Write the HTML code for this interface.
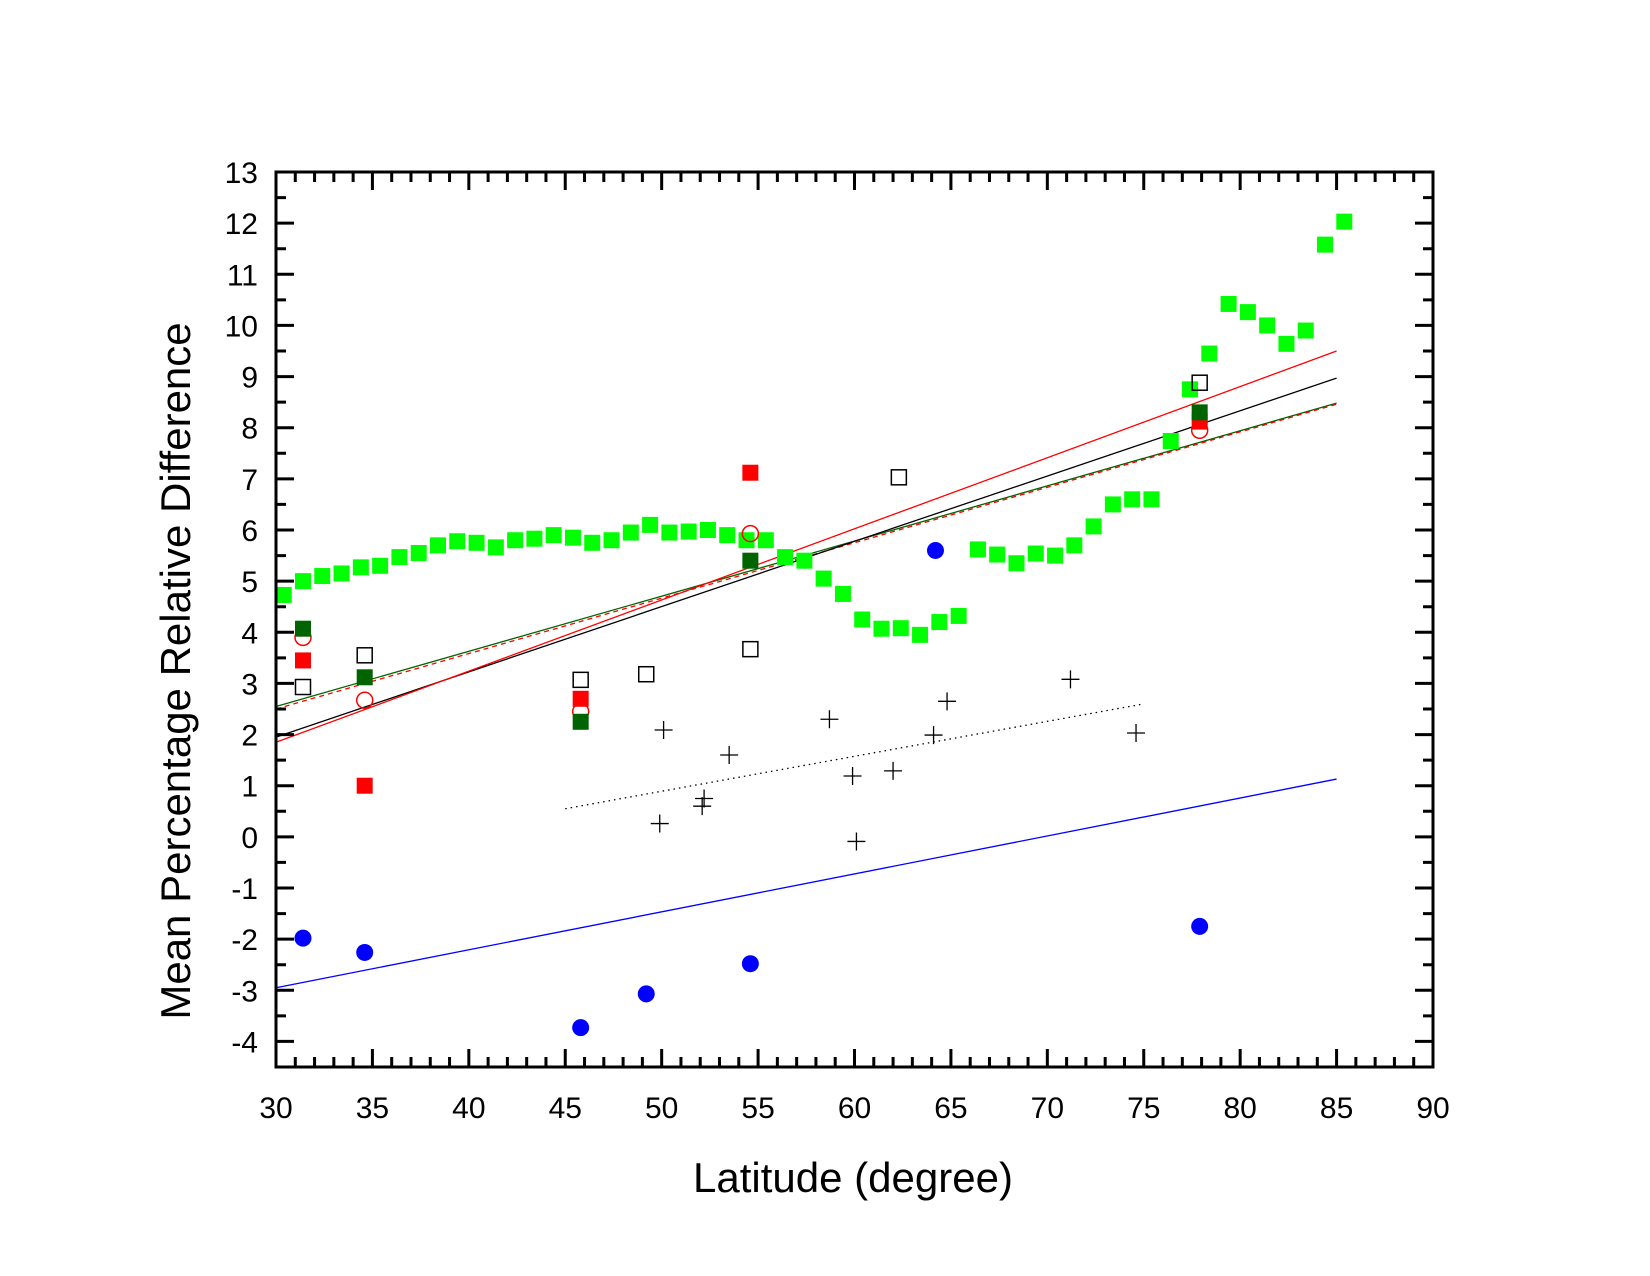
<!DOCTYPE html>
<html><head><meta charset="utf-8"><style>
body{margin:0;background:#fff}
svg{display:block}
text{font-family:"Liberation Sans",Arial,sans-serif}
</style></head><body>
<svg id="chart" width="1650" height="1276" xmlns="http://www.w3.org/2000/svg">
<rect width="1650" height="1276" fill="#fff"/>
<g id="marks"></g>
<g id="axes"></g>
<text x="853" y="1192" font-size="42" text-anchor="middle">Latitude (degree)</text>
<text transform="translate(190,671) rotate(-90)" font-size="42" text-anchor="middle">Mean Percentage Relative Difference</text>
</svg>
<script>
const xTicks=[30,35,40,45,50,55,60,65,70,75,80,85,90];
const yTicks=[-4,-3,-2,-1,0,1,2,3,4,5,6,7,8,9,10,11,12,13];
const greenX=[30.4,31.4,32.4,33.4,34.4,35.4,36.4,37.4,38.4,39.4,40.4,41.4,42.4,43.4,44.4,45.4,46.4,47.4,48.4,49.4,50.4,51.4,52.4,53.4,54.4,55.4,56.4,57.4,58.4,59.4,60.4,61.4,62.4,63.4,64.4,65.4,66.4,67.4,68.4,69.4,70.4,71.4,72.4,73.4,74.4,75.4,76.4,77.4,78.4,79.4,80.4,81.4,82.4,83.4,84.4,85.4];
const greenY=[4.73,5.0,5.1,5.15,5.27,5.3,5.47,5.55,5.7,5.78,5.75,5.66,5.8,5.83,5.9,5.85,5.75,5.8,5.95,6.1,5.95,5.97,6.0,5.9,5.8,5.8,5.47,5.4,5.05,4.75,4.25,4.07,4.08,3.95,4.2,4.32,5.62,5.52,5.35,5.54,5.5,5.7,6.07,6.5,6.6,6.6,7.74,8.75,9.45,10.42,10.26,10.0,9.64,9.9,11.58,12.03];
const stX5=[31.4,34.6,45.8,54.6,77.9];
const redSqY=[3.45,1.0,2.7,7.12,8.12];
const redCircY=[3.9,2.67,2.45,5.93,7.95];
const darkSqY=[4.07,3.12,2.25,5.4,8.3];
const openSqX=[31.4,34.6,45.8,49.2,54.6,62.3,77.9];
const openSqY=[2.93,3.55,3.07,3.18,3.67,7.03,8.88];
const blueX=[31.4,34.6,45.8,49.2,54.6,64.2,77.9];
const blueY=[-1.98,-2.26,-3.73,-3.07,-2.48,5.6,-1.75];
const crossX=[50.1,49.9,52.2,52.1,53.5,58.7,59.9,60.1,62.0,64.1,64.8,71.2,74.6];
const crossY=[2.09,0.26,0.75,0.6,1.6,2.3,1.19,-0.09,1.29,1.99,2.65,3.08,2.03];
const redLine=[[30,1.85],[85,9.5]];
const blackLine=[[30,1.95],[85,8.97]];
const greenLine=[[30,2.55],[85,8.48]];
const redDashLine=[[30,2.5],[85,8.46]];
const blueLine=[[30,-2.95],[85,1.13]];
const dotLine=[[45,0.55],[75,2.6]];

const L=276,R=1433,T=172,B=1067,xMin=30,xMax=90,yMin=-4.5,yMax=13;
const sx=v=>L+(v-xMin)/(xMax-xMin)*(R-L);
const sy=v=>B-(v-yMin)/(yMax-yMin)*(B-T);
const NS='http://www.w3.org/2000/svg';
const marks=document.getElementById('marks'),axes=document.getElementById('axes');
function mk(tag,attrs,parent){const e=document.createElementNS(NS,tag);for(const k in attrs)e.setAttribute(k,attrs[k]);parent.appendChild(e);return e;}

function line(p,stroke,dash,name){
  const e=mk('line',{x1:sx(p[0][0]),y1:sy(p[0][1]),x2:sx(p[1][0]),y2:sy(p[1][1]),stroke:stroke,'stroke-width':1.3},marks);
  if(dash)e.setAttribute('stroke-dasharray',dash);
  
  
}
line(blueLine,'#0000ff',null,'blue-fit-line');
line(dotLine,'#000',"1.5 4",'dotted-fit-line');
line(greenLine,'#006400',null,'darkgreen-fit-line');
line(redDashLine,'#ff0000',"5 4",'red-dashed-fit-line');
line(blackLine,'#000',null,'black-fit-line');
line(redLine,'#ff0000',null,'red-fit-line');

function sq(x,y,fill,stroke,name,s){
  const e=mk('rect',{x:sx(x)-s/2,y:sy(y)-s/2,width:s,height:s,fill:fill},marks);
  if(stroke){e.setAttribute('stroke',stroke);e.setAttribute('stroke-width',1.5);}
  
  
}
function circ(x,y,fill,stroke,name,r){
  const e=mk('circle',{cx:sx(x),cy:sy(y),r:r,fill:fill},marks);
  if(stroke){e.setAttribute('stroke',stroke);e.setAttribute('stroke-width',1.5);}
  
  
}
greenX.forEach((x,i)=>sq(x,greenY[i],'#00ff00',null,'green-square-point',16));
stX5.forEach((x,i)=>circ(x,redCircY[i],'none','#ff0000','red-open-circle',8));
stX5.forEach((x,i)=>sq(x,redSqY[i],'#ff0000',null,'red-square-point',16));
stX5.forEach((x,i)=>sq(x,darkSqY[i],'#006400',null,'darkgreen-square-point',16));
openSqX.forEach((x,i)=>sq(x,openSqY[i],'none','#000','open-square-point',15));
blueX.forEach((x,i)=>circ(x,blueY[i],'#0000ff',null,'blue-circle-point',8.5));
crossX.forEach((x,i)=>{
  const cx=sx(x),cy=sy(crossY[i]);
  const g=mk('path',{d:`M${cx-9},${cy}H${cx+9}M${cx},${cy-9}V${cy+9}`,stroke:'#000','stroke-width':1.3,fill:'none'},marks);
  
  
});

// axes frame
const fr=mk('rect',{x:L,y:T,width:R-L,height:B-T,fill:'none',stroke:'#000','stroke-width':3},axes);


let d='';
for(let v=xMin;v<=xMax;v+=1){const X=sx(v);const len=(v%5===0)?18:10;d+=`M${X},${B}V${B-len}M${X},${T}V${T+len}`;}
for(let v=yMin;v<=yMax;v+=0.5){const Y=sy(v);const len=(Math.abs(v%1)<1e-9)?18:10;d+=`M${L},${Y}H${L+len}M${R},${Y}H${R-len}`;}
const tk=mk('path',{d:d,stroke:'#000','stroke-width':3,fill:'none'},axes);


xTicks.forEach(v=>{
  const t=mk('text',{x:sx(v),y:1118,'font-size':30,'text-anchor':'middle'},axes);
  t.textContent=v;
  
  
});
yTicks.forEach(v=>{
  const t=mk('text',{x:258,y:sy(v)+11,'font-size':30,'text-anchor':'end'},axes);
  t.textContent=v;
  
  
});
</script>
</body></html>
